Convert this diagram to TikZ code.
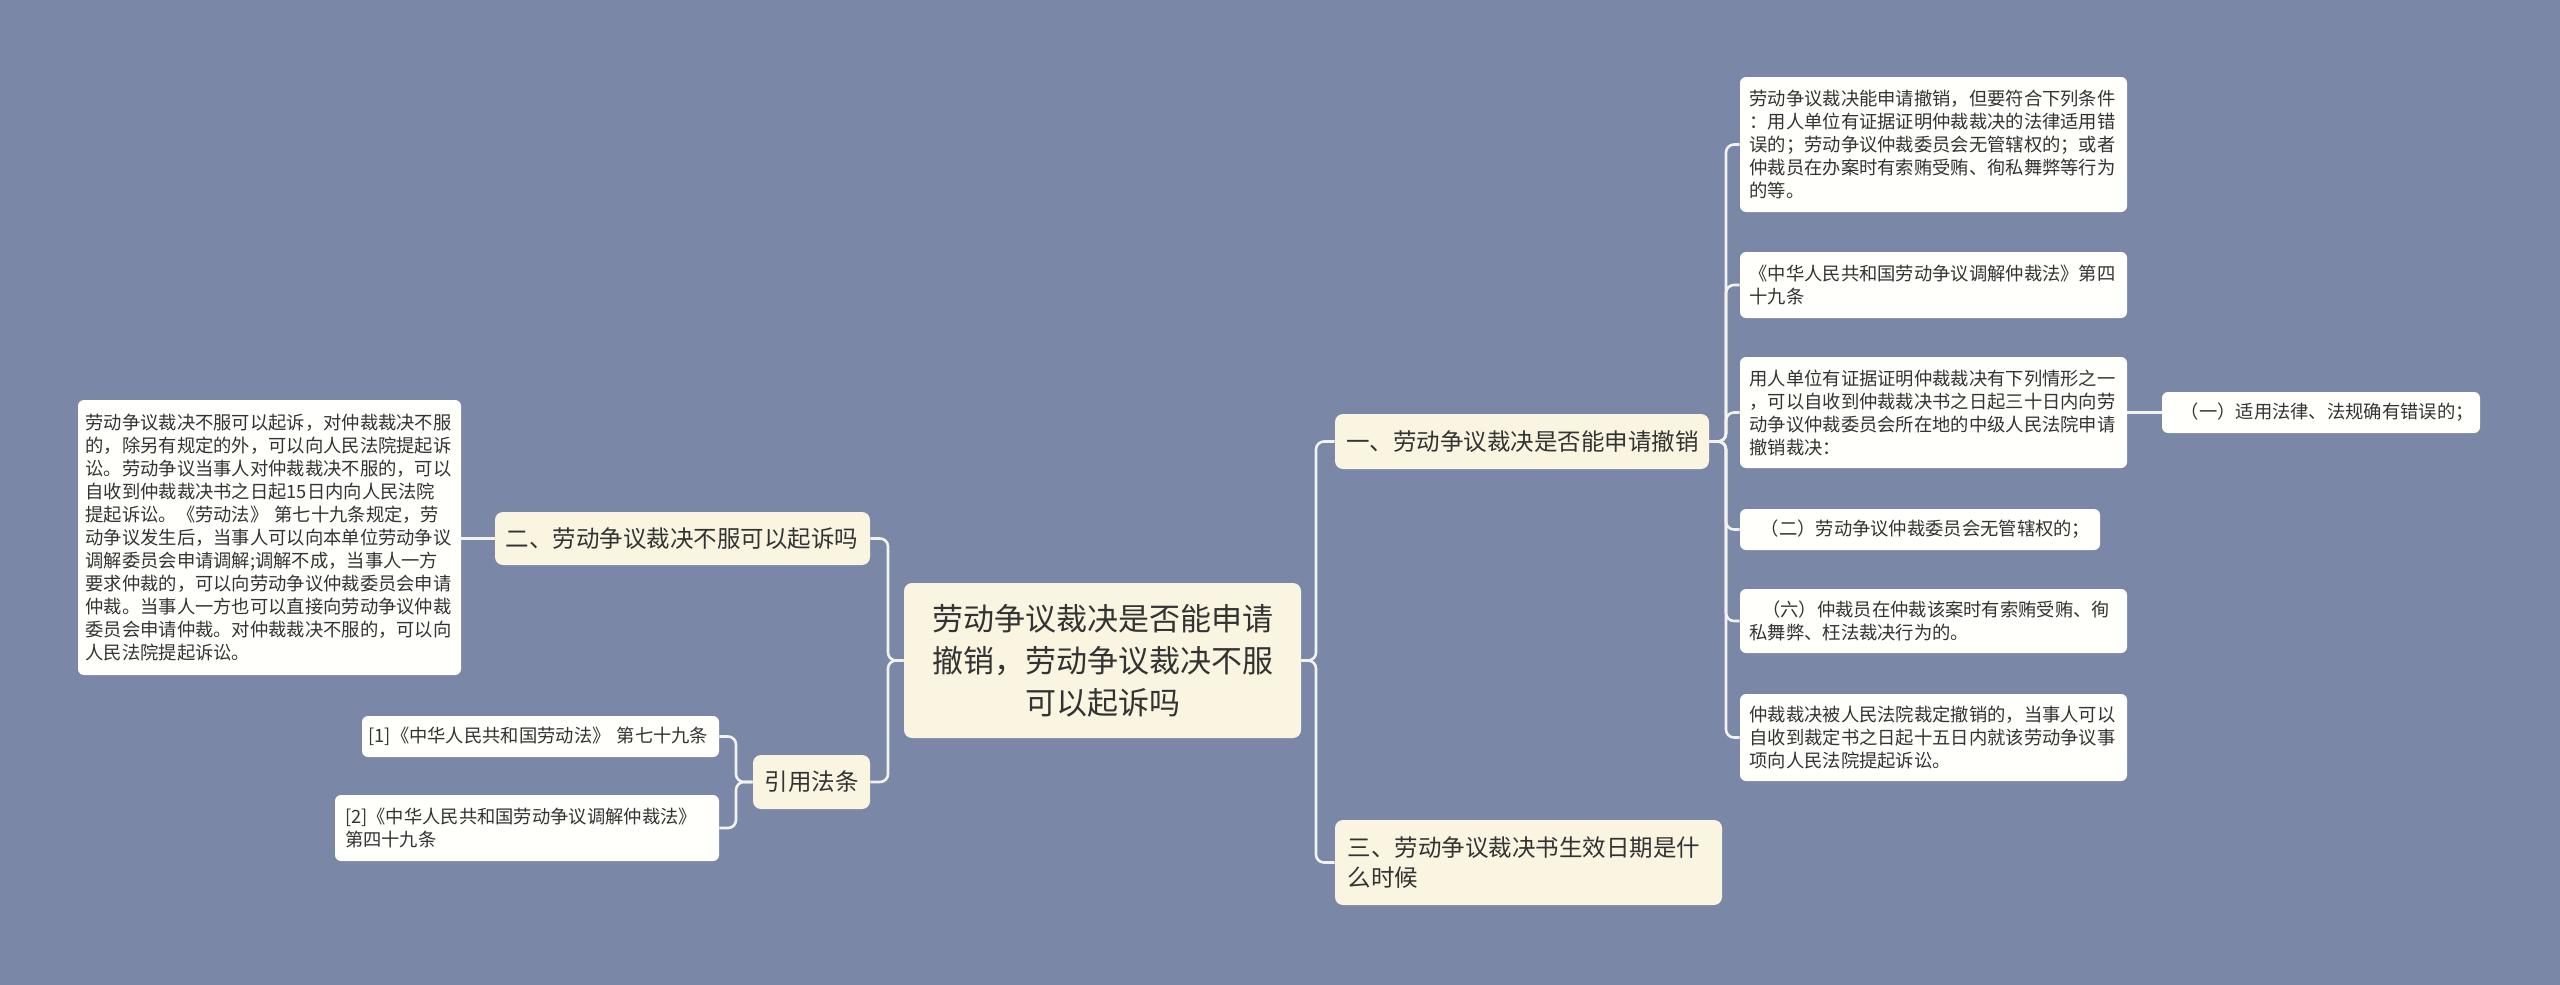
\documentclass[tikz,border=0pt]{standalone}
\usepackage{fontspec}
\setmainfont{Noto Sans CJK SC}
\usetikzlibrary{backgrounds}
\definecolor{bgc}{HTML}{7A87A6}
\definecolor{cream}{HTML}{FAF5E1}
\definecolor{leafc}{HTML}{FFFFFC}
\definecolor{txt}{HTML}{333333}
\definecolor{linec}{HTML}{F2F2EE}
\begin{document}
\begin{tikzpicture}[x=0.5pt,y=-0.5pt,
  box/.style={rounded corners=4pt, inner xsep=0pt, inner ysep=0pt, text=txt, align=left},
  rootbox/.style={box, fill=cream, font=\fontsize{15.5}{21}\selectfont, align=center},
  mainbox/.style={box, fill=cream, font=\fontsize{11.75}{15}\selectfont},
  leafbox/.style={box, fill=leafc, font=\fontsize{9.15}{11.5}\selectfont, rounded corners=3pt},
  conn/.style={draw=linec, line width=1.3pt, rounded corners=4pt}]
\begin{pgfonlayer}{background}
\fill[bgc] (0,0) rectangle (2560,985);
\end{pgfonlayer}
\useasboundingbox (0,0) rectangle (2560,985);

% root
\node[rootbox, minimum width=198.5pt, minimum height=77.5pt, text width=185pt] (root) at (1102.5,660.5)
  {劳动争议裁决是否能申请\\撤销，劳动争议裁决不服\\可以起诉吗};

% left side
\node[mainbox, minimum width=187.5pt, minimum height=26.5pt, text width=177pt] (n2) at (682.5,538.5)
  {二、劳动争议裁决不服可以起诉吗};
\node[leafbox, minimum width=191.5pt, minimum height=137.5pt, text width=184pt] (lt) at (269.5,537.5)
  {劳动争议裁决不服可以起诉，对仲裁裁决不服\\的，除另有规定的外，可以向人民法院提起诉\\讼。劳动争议当事人对仲裁裁决不服的，可以\\自收到仲裁裁决书之日起15日内向人民法院\\提起诉讼。《劳动法》~第七十九条规定，劳\\动争议发生后，当事人可以向本单位劳动争议\\调解委员会申请调解;调解不成，当事人一方\\要求仲裁的，可以向劳动争议仲裁委员会申请\\仲裁。当事人一方也可以直接向劳动争议仲裁\\委员会申请仲裁。对仲裁裁决不服的，可以向\\人民法院提起诉讼。};
\node[mainbox, minimum width=58.5pt, minimum height=27pt, text width=47pt] (yy) at (811.5,782)
  {引用法条};
\node[leafbox, minimum width=178.5pt, minimum height=20.5pt, text width=172pt] (r1) at (540.5,736.5)
  {[1]《中华人民共和国劳动法》~第七十九条};
\node[leafbox, minimum width=192pt, minimum height=33pt, text width=182pt] (r2) at (527,828)
  {[2]《中华人民共和国劳动争议调解仲裁法》\\第四十九条};

% right side
\node[mainbox, minimum width=187pt, minimum height=27.5pt, text width=176pt] (n1) at (1522,441.5)
  {一、劳动争议裁决是否能申请撤销};
\node[mainbox, minimum width=193.5pt, minimum height=42.5pt, text width=181pt] (n3) at (1528.5,862.5)
  {三、劳动争议裁决书生效日期是什\\么时候};

\node[leafbox, minimum width=193.5pt, minimum height=67.5pt, text width=184pt] (c1) at (1933.5,144.5)
  {劳动争议裁决能申请撤销，但要符合下列条件\\：用人单位有证据证明仲裁裁决的法律适用错\\误的；劳动争议仲裁委员会无管辖权的；或者\\仲裁员在办案时有索贿受贿、徇私舞弊等行为\\的等。};
\node[leafbox, minimum width=193.5pt, minimum height=33pt, text width=184pt] (c2) at (1933.5,285)
  {《中华人民共和国劳动争议调解仲裁法》第四\\十九条};
\node[leafbox, minimum width=193.5pt, minimum height=55.5pt, text width=184pt] (c3) at (1933.5,412.5)
  {用人单位有证据证明仲裁裁决有下列情形之一\\，可以自收到仲裁裁决书之日起三十日内向劳\\动争议仲裁委员会所在地的中级人民法院申请\\撤销裁决：};
\node[leafbox, minimum width=180pt, minimum height=20.5pt, text width=172pt] (c4) at (1920,529.5)
  {\hspace*{0.7em}（二）劳动争议仲裁委员会无管辖权的；};
\node[leafbox, minimum width=193.5pt, minimum height=32pt, text width=184pt] (c5) at (1933.5,621)
  {\hspace*{0.7em}（六）仲裁员在仲裁该案时有索贿受贿、徇\\私舞弊、枉法裁决行为的。};
\node[leafbox, minimum width=193.5pt, minimum height=43.5pt, text width=184pt] (c6) at (1933.5,737.5)
  {仲裁裁决被人民法院裁定撤销的，当事人可以\\自收到裁定书之日起十五日内就该劳动争议事\\项向人民法院提起诉讼。};
\node[leafbox, minimum width=159pt, minimum height=20.5pt, text width=153pt] (c3a) at (2321,412.5)
  {\hspace*{0.7em}（一）适用法律、法规确有错误的；};

% bus coordinates
\coordinate (lbus) at (888,660);
\coordinate (ybus) at (736,782);
\coordinate (rbus) at (1316,660);
\coordinate (obus) at (1726,441.5);

\begin{pgfonlayer}{background}
\draw[conn] (root.west) -- (lbus |- root.west) |- (n2.east);
\draw[conn] (root.west) -- (lbus |- root.west) |- (yy.east);
\draw[conn] (n2.west) -- (lt.east |- n2.west);
\draw[conn] (yy.west) -- (ybus |- yy.west) |- (r1.east);
\draw[conn] (yy.west) -- (ybus |- yy.west) |- (r2.east);
\draw[conn] (root.east) -- (rbus |- root.east) |- (n1.west);
\draw[conn] (root.east) -- (rbus |- root.east) |- (n3.west);
\foreach \c in {c1,c2,c3,c4,c5,c6}{
  \draw[conn] (n1.east) -- (obus |- n1.east) |- (\c.west);
}
\draw[conn] (c3.east) -- (c3a.west);
\end{pgfonlayer}
\end{tikzpicture}
\end{document}
